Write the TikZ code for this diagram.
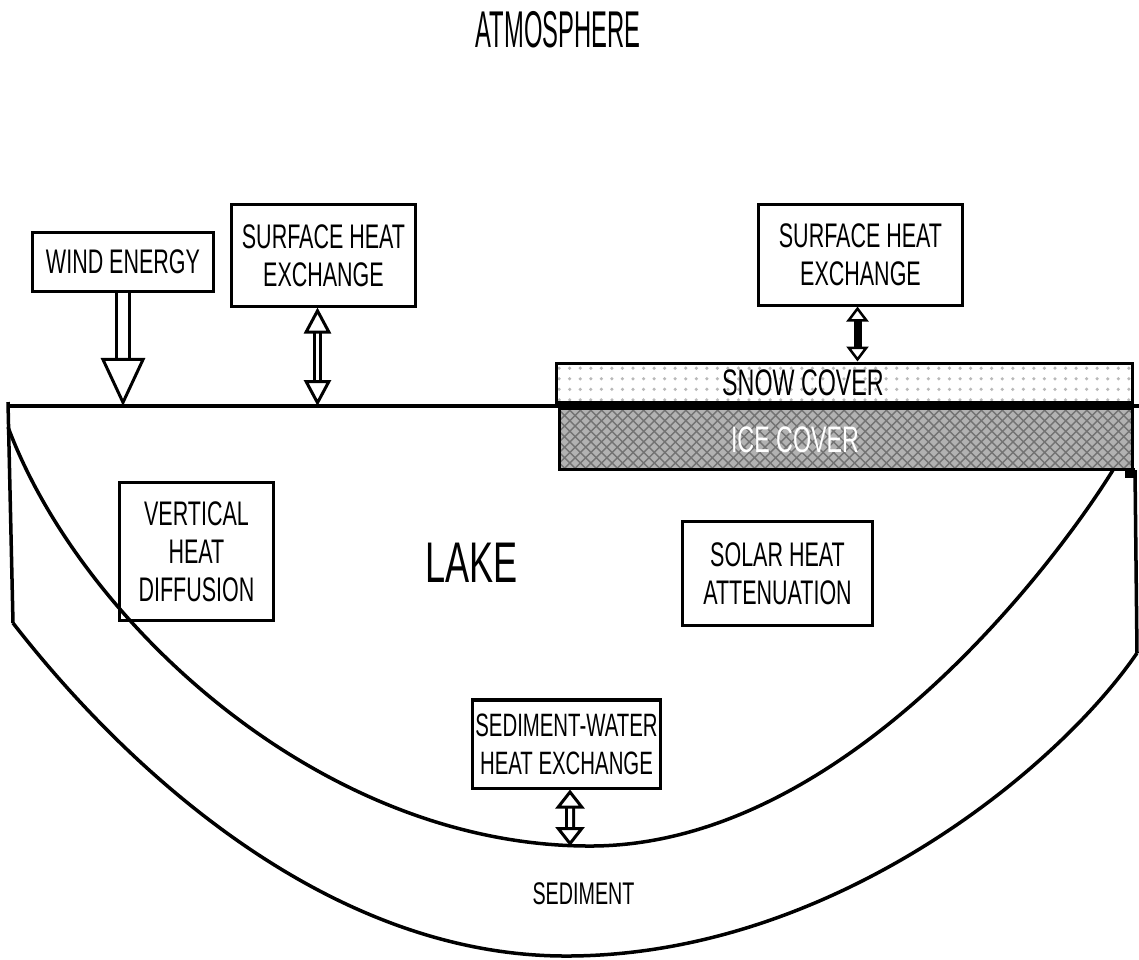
\documentclass[tikz,border=0pt]{standalone}
\usepackage{fontspec}
\setmainfont{Liberation Sans}
\newfontfamily\lakefont[FakeStretch=0.63]{Liberation Sans}
\newfontfamily\atmfont[FakeStretch=0.46]{Liberation Sans}
\usetikzlibrary{arrows.meta,patterns,calc}

\tikzset{
  box/.style={draw, line width=0.03cm, align=center, inner sep=0pt,
    font=\lakefont\fontsize{9.7}{10.8}\selectfont},
  label/.style={inner sep=0pt, font=\lakefont\fontsize{#1}{#1}\selectfont},
  hollow/.style={line width=0.03cm, double=white, double distance=#1},
  bigtip/.tip={Triangle[fill=white, width=0.44cm, length=0.48cm, line width=0.03cm]},
  midtip/.tip={Triangle[fill=white, width=0.27cm, length=0.26cm, line width=0.03cm]},
  sedtip/.tip={Triangle[fill=white, width=0.29cm, length=0.19cm, line width=0.03cm]},
  smalltip/.tip={Triangle[fill=white, width=0.22cm, length=0.15cm, line width=0.025cm]}
}

\begin{document}
\begin{tikzpicture}[x=0.01cm, y=-0.01cm]
\useasboundingbox (0,0) rectangle (1139,959);

\coordinate (shoreL) at (8,406);
\coordinate (shoreR) at (1139,406);
\coordinate (lakebed) at (570,846);

% snow and ice
\node[draw, line width=0.03cm, minimum width=5.75cm, minimum height=0.39cm,
  preaction={fill=white}, pattern=dots, pattern color=gray!55] (snow) at (844.5,382.5) {};
\node[draw, line width=0.03cm, minimum width=5.72cm, minimum height=0.61cm,
  preaction={fill=gray!60}, pattern=crosshatch, pattern color=black!55] (ice) at (846,438.5) {};
\fill (1125,468) rectangle (1135,478);
\node[label=10.5] (snowtext) at (803,383) {SNOW COVER};
\node[label=10.5, text=white] (icetext) at (795,440) {ICE COVER};

% lake and sediment
\draw[line width=0.045cm] (shoreL) -- (shoreR);
\draw[line width=0.035cm] (8,402) -- (13,623);
\draw[line width=0.035cm] (1135,470) -- (1137,653);
\draw[line width=0.035cm] (8,427) .. controls (80,620) and (320,846) .. (590,846)
  .. controls (850,846) and (1063,551) .. (1113,470);
\draw[line width=0.035cm] (13,623) .. controls (124,766) and (326,956) .. (566,956)
  .. controls (830,956) and (1057,770) .. (1137,653);

\node[inner sep=0pt, font=\atmfont\fontsize{14.7}{14.7}\selectfont] (atm) at (558,30) {ATMOSPHERE};
\node[label=16.3] (lake) at (471.5,562.5) {LAKE};
\node[label=8.9] (sediment) at (583.5,894) {SEDIMENT};

\node[box, minimum width=1.80cm, minimum height=0.59cm] (wind) at (123,261.5) {WIND ENERGY};
\node[box, minimum width=1.83cm, minimum height=1.01cm] (sheL) at (323.5,255.5) {SURFACE HEAT\\EXCHANGE};
\node[box, minimum width=2.03cm, minimum height=1.00cm] (sheR) at (860.5,255) {SURFACE HEAT\\EXCHANGE};
\node[box, minimum width=1.53cm, minimum height=1.37cm] (vhd) at (196.5,551.5) {VERTICAL\\HEAT\\DIFFUSION};
\node[box, minimum width=1.89cm, minimum height=1.03cm] (solar) at (777.5,573.5) {SOLAR HEAT\\ATTENUATION};
\node[box, minimum width=1.87cm, minimum height=0.88cm,
  font=\lakefont\fontsize{9.2}{10.8}\selectfont] (sedwater) at (566.5,744) {SEDIMENT-WATER\\HEAT EXCHANGE};

% fluxes
\draw[hollow=0.09cm, -bigtip] (wind.south) -- (wind.south |- shoreL);
\draw[hollow=0.03cm, midtip-midtip] ([xshift=-0.06cm]sheL.south) -- ([xshift=-0.06cm]sheL.south |- shoreL);
\draw[line width=0.08cm, smalltip-smalltip] ([xshift=-0.03cm]sheR.south) -- ([xshift=-0.03cm]sheR.south |- snow.north);
\draw[hollow=0.04cm, sedtip-sedtip] ([xshift=0.035cm]sedwater.south) -- (lakebed);
\end{tikzpicture}
\end{document}
